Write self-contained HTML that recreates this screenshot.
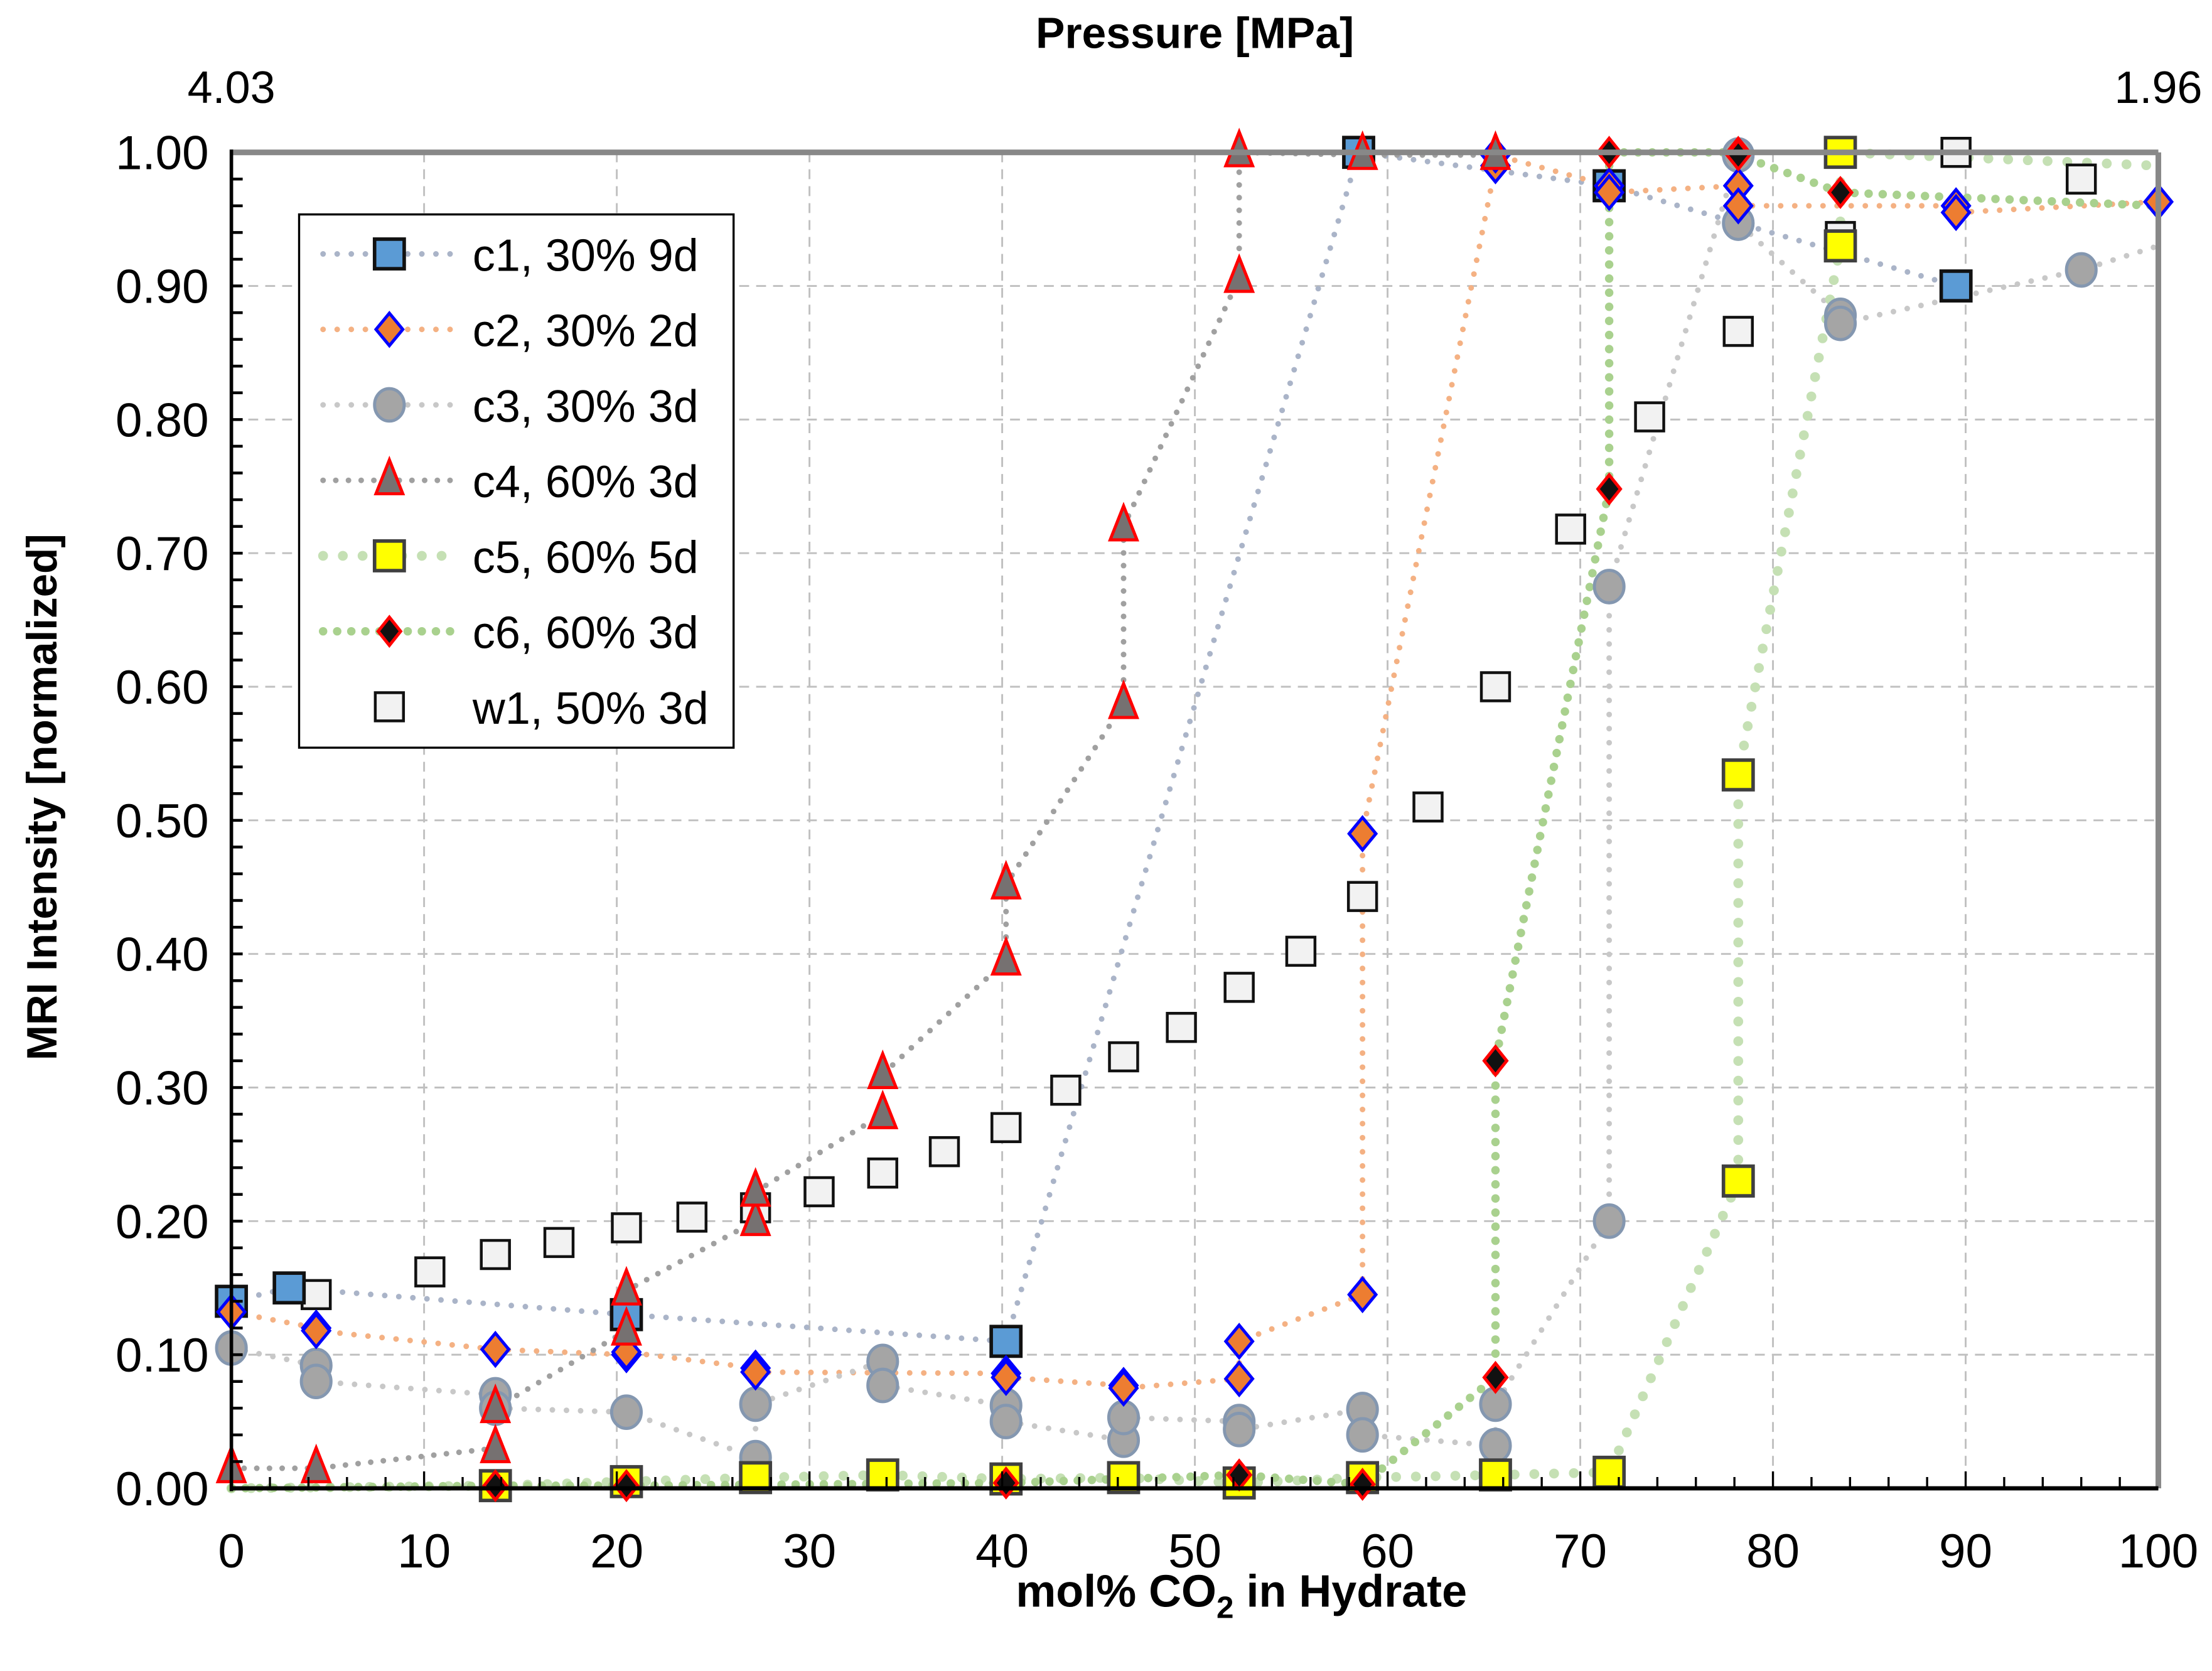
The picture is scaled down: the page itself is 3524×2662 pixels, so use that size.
<!DOCTYPE html>
<html><head><meta charset="utf-8">
<style>
html,body{margin:0;padding:0;background:#fff;}
svg{display:block;font-family:"Liberation Sans",Arial,sans-serif;}
</style></head>
<body>
<svg id="chart" width="3524" height="2662" viewBox="0 0 1568 1184.5" xmlns="http://www.w3.org/2000/svg">
<g id="grid"></g>
<g id="series"></g>
<g id="axes"></g>
<text x="847" y="34" font-size="31" font-weight="bold" text-anchor="middle">Pressure [MPa]</text>
<text x="164" y="73" font-size="32" text-anchor="middle">4.03</text>
<text x="1530" y="73" font-size="32" text-anchor="middle">1.96</text>
<text x="880" y="1139" font-size="32" font-weight="bold" text-anchor="middle">mol% CO<tspan font-size="22" dy="8">2</tspan><tspan dy="-8"> in Hydrate</tspan></text>
<text transform="translate(40,565) rotate(-90)" font-size="30" font-weight="bold" text-anchor="middle">MRI Intensity [normalized]</text>
<g id="legend"></g>
</svg>
<script>
const xTicks=[0,10,20,30,40,50,60,70,80,90,100];
const yTicks=[0,0.1,0.2,0.3,0.4,0.5,0.6,0.7,0.8,0.9,1.0];
const seriesNames=["c1, 30% 9d","c2, 30% 2d","c3, 30% 3d","c4, 60% 3d","c5, 60% 5d","c6, 60% 3d","w1, 50% 3d"];
const c1X=[0,3,20.5,40.2,58.5,71.5,89.5];
const c1Y=[0.14,0.15,0.13,0.11,1.0,0.975,0.90];
const c2X=[0,4.4,4.4,13.7,20.5,20.5,27.2,27.2,40.2,40.2,46.3,46.3,52.3,52.3,58.7,58.7,65.6,65.6,71.5,71.5,78.2,78.2,89.5,89.5,100];
const c2Y=[0.132,0.12,0.118,0.104,0.10,0.102,0.09,0.087,0.086,0.083,0.077,0.075,0.082,0.11,0.145,0.49,0.99,0.998,0.975,0.97,0.975,0.96,0.96,0.955,0.963];
const c3X=[0,4.4,4.4,13.7,13.7,20.5,27.2,27.2,33.8,33.8,40.2,40.2,46.3,46.3,52.3,52.3,58.7,58.7,65.6,65.6,71.5,71.5,78.2,78.2,83.5,83.5,96];
const c3Y=[0.105,0.092,0.08,0.07,0.06,0.057,0.023,0.063,0.095,0.077,0.062,0.05,0.036,0.053,0.05,0.044,0.059,0.04,0.032,0.063,0.2,0.675,0.998,0.947,0.878,0.872,0.912];
const c4X=[0,4.4,13.7,13.7,20.5,20.5,27.2,27.2,33.8,33.8,40.2,40.2,46.3,46.3,52.3,52.3,58.7,65.6];
const c4Y=[0.015,0.015,0.03,0.06,0.118,0.148,0.2,0.222,0.28,0.31,0.395,0.452,0.587,0.72,0.906,1.0,0.998,0.998];
const c5X=[13.7,20.5,27.2,33.8,40.2,46.3,52.3,58.7,65.6,71.5,78.2,78.2,83.5,83.5];
const c5Y=[0.002,0.005,0.008,0.01,0.007,0.008,0.004,0.008,0.01,0.012,0.23,0.534,0.93,1.0];
const c6X=[13.7,20.5,40.2,52.3,58.7,65.6,65.6,71.5,71.5,78.2,78.2,83.5];
const c6Y=[0.002,0.002,0.004,0.01,0.003,0.083,0.32,0.748,1.0,1.0,0.998,0.97];
const w1X=[4.4,10.3,13.7,17,20.5,23.9,27.2,30.5,33.8,37,40.2,43.3,46.3,49.3,52.3,55.5,58.7,62.1,65.6,69.5,73.6,78.2,83.5,89.5,96];
const w1Y=[0.145,0.162,0.175,0.184,0.195,0.203,0.21,0.222,0.236,0.252,0.27,0.298,0.323,0.345,0.375,0.402,0.443,0.51,0.6,0.718,0.802,0.866,0.937,1.0,0.98];

const X0=164,X1=1530,Y0=1055,Y1=108;
const sx=v=>X0+(X1-X0)*v/100;
const sy=v=>Y0-(Y0-Y1)*v;
const NS="http://www.w3.org/2000/svg";
function mk(tag,attrs,parent){const e=document.createElementNS(NS,tag);for(const k in attrs)e.setAttribute(k,attrs[k]);parent.appendChild(e);return e;}
const grid=document.getElementById('grid'),axes=document.getElementById('axes'),ser=document.getElementById('series'),leg=document.getElementById('legend');

xTicks.forEach(t=>{if(t>0&&t<100){const l=mk('line',{x1:sx(t),x2:sx(t),y1:Y1,y2:Y0,stroke:'#c0c0c0','stroke-width':1.3,'stroke-dasharray':'7 5'},grid);

}
const tl=mk('text',{x:sx(t),y:1111,'font-size':34,'text-anchor':'middle'},axes);tl.textContent=t;

});
yTicks.forEach(t=>{if(t>0&&t<1){const l=mk('line',{x1:X0,x2:X1,y1:sy(t),y2:sy(t),stroke:'#c0c0c0','stroke-width':1.3,'stroke-dasharray':'7 5'},grid);

}
const tl=mk('text',{x:148,y:sy(t)+12,'font-size':34,'text-anchor':'end'},axes);tl.textContent=t.toFixed(2);

});
for(let v=0;v<=1.0001;v+=0.02){mk('line',{x1:X0,x2:X0+8,y1:sy(v),y2:sy(v),stroke:'#000','stroke-width':2},axes);}
for(let v=0;v<=100;v+=2){mk('line',{x1:sx(v),x2:sx(v),y1:Y0,y2:Y0-(v%10==0?12:8),stroke:'#000','stroke-width':1.5},axes);}
mk('line',{x1:X0,x2:X1,y1:Y1,y2:Y1,stroke:'#888','stroke-width':4},axes);
mk('line',{x1:X1,x2:X1,y1:Y1,y2:Y0,stroke:'#888','stroke-width':4},axes);
mk('line',{x1:X0,x2:X0,y1:Y1-2,y2:Y0+2,stroke:'#000','stroke-width':2.5},axes);
mk('line',{x1:X0,x2:X1,y1:Y0,y2:Y0,stroke:'#000','stroke-width':3},axes);

const styles=[
 {line:'#aab4c8',lw:4,gap:10,m:'sq',fill:'#5b9bd5',stroke:'#111',sw:2.5,s:21},
 {line:'#f4b183',lw:4,gap:10,m:'dia',fill:'#ed7d31',stroke:'#0000ff',sw:2.2,s:19},
 {line:'#c8c8c8',lw:4,gap:10,m:'circ',fill:'#a5a5a5',stroke:'#8497b0',sw:2.2,s:23},
 {line:'#a0a0a0',lw:4,gap:9,m:'tri',fill:'#767171',stroke:'#ff0000',sw:2.2,s:23},
 {line:'#c5e0b4',lw:7,gap:14,m:'sq',fill:'#ffff00',stroke:'#404040',sw:2.5,s:21},
 {line:'#a9d18e',lw:6,gap:10,m:'dia',fill:'#111',stroke:'#ff0000',sw:2.2,s:16},
 {line:null,m:'sq',fill:'#f2f2f2',stroke:'#111',sw:2,s:20}
];
const allX=[c1X,c2X,c3X,c4X,c5X,c6X,w1X],allY=[c1Y,c2Y,c3Y,c4Y,c5Y,c6Y,w1Y];
const lineStart=[null,null,null,null,[0,0],[0,0],null];
const lineEnd=[null,null,[100,0.93],null,[100,0.99],[100,0.96],null];
function marker(st,x,y,parent,name){let e;const s=st.s,h=s/2;
 if(st.m==='sq')e=mk('rect',{x:x-h,y:y-h,width:s,height:s},parent);
 else if(st.m==='dia')e=mk('polygon',{points:`${x},${y-h-2} ${x+h},${y} ${x},${y+h+2} ${x-h},${y}`},parent);
 else if(st.m==='circ')e=mk('ellipse',{cx:x,cy:y,rx:h-1,ry:h},parent);
 else e=mk('polygon',{points:`${x},${y-h-3} ${x+h-2},${y+h-2} ${x-h+2},${y+h-2}`},parent);
 e.setAttribute('fill',st.fill);e.setAttribute('stroke',st.stroke);e.setAttribute('stroke-width',st.sw);
 
 
 return e;}
[0,1,2,3,4,5].forEach(i=>{const st=styles[i];
 let p=allX[i].map((x,j)=>[x,allY[i][j]]);
 if(lineStart[i])p.unshift(lineStart[i]);
 if(lineEnd[i])p.push(lineEnd[i]);
 const pts=p.map(q=>sx(q[0])+','+sy(q[1])).join(' ');
 const pl=mk('polyline',{points:pts,fill:'none',stroke:st.line,'stroke-width':st.lw,'stroke-linecap':'round','stroke-dasharray':`0 ${st.gap}`},ser);
 
 });
[6,0,2,1,3,4,5].forEach(i=>{const st=styles[i];const g=mk('g',{},ser);
 
 
 allX[i].forEach((x,j)=>marker(st,sx(x),sy(allY[i][j]),g,'data-point'));});

const lb=mk('rect',{x:212,y:152,width:308,height:378,fill:'#fff',stroke:'#000','stroke-width':1.5},leg);


seriesNames.forEach((n,i)=>{const y=180+i*53.5;const st=styles[i];const g=mk('g',{},leg);
 
 
 if(st.line)mk('line',{x1:229,x2:320,y1:y,y2:y,stroke:st.line,'stroke-width':st.lw,'stroke-linecap':'round','stroke-dasharray':`0 ${st.gap}`},g);
 marker(st,276,y,g,'legend-marker');
 const t=mk('text',{x:335,y:y+12,'font-size':32},g);t.textContent=n;
 
 });
</script>
</body></html>
